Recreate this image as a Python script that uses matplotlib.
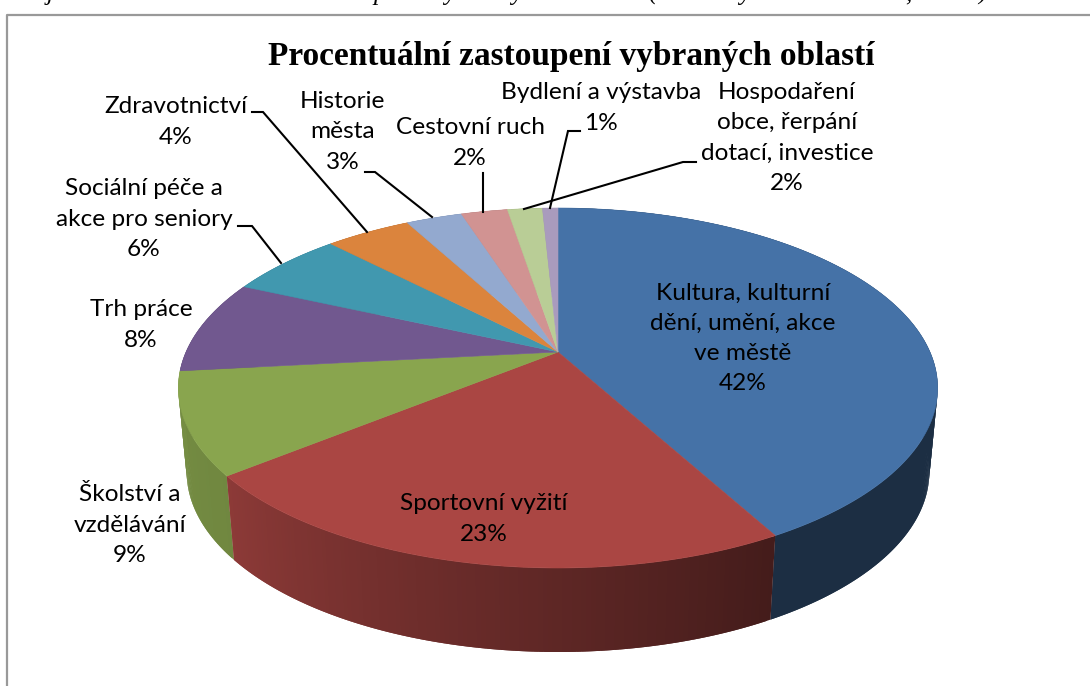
"""3D pie chart of topic shares, drawn with a small perspective projection."""

import numpy as np
import matplotlib
matplotlib.use("Agg")
import matplotlib.pyplot as plt
from matplotlib.patches import Polygon

# data, shares estimated from the slices (labels show them as printed)
labels = ["Kultura, kulturní\ndění, umění, akce\nve městě", "Sportovní vyžití",
          "Školství a\nvzdělávání", "Trh práce", "Sociální péče a\nakce pro seniory",
          "Zdravotnictví", "Historie\nměsta", "Cestovní ruch",
          "Hospodaření\nobce, řerpání\ndotací, investice", "Bydlení a výstavba"]
values = [42.0, 22.2, 9.1, 8.4, 6.0, 4.4, 2.9, 2.4, 1.8, 0.8]
percent_labels = ["42%", "23%", "9%", "8%", "6%", "4%", "3%", "2%", "2%", "1%"]
title = "Procentuální zastoupení vybraných oblastí"

# only the descenders of the caption above the chart are visible
caption_glyphs = ["j", "p", "y", "y", "(", "y", ",", ")"]
caption_x = [50, 380, 450, 517, 652, 745, 908, 982]

# slice colours (office palette) and brightness of the side wall, start -> end
colors = ["#4572A7", "#AA4643", "#89A54E", "#71588F", "#4198AF",
          "#DB843D", "#93A9CF", "#D19392", "#B9CD96", "#A99BBD"]
side_start = [0.40, 0.40, 0.82, 0.7, 0.7, 0.7, 0.7, 0.7, 0.7, 0.7]
side_end = [0.40, 0.83, 0.86, 0.7, 0.7, 0.7, 0.7, 0.7, 0.7, 0.7]

# label centres in pixels
label_x = [743, 484, 130, 141, 144, 176, 343, 470, 787, 601]
label_y = [338, 519, 525, 325, 219, 122, 132, 143, 138, 108]

# leader lines in pixels
leaders = [
    [(238, 226), (252, 226), (281, 263)],
    [(252, 112), (263, 112), (367, 232)],
    [(365, 172), (375, 172), (432, 217)],
    [(483, 173), (483, 212)],
    [(696, 162), (683, 162), (524, 209)],
    [(580, 131), (568, 131), (550, 208)],
]

# pie geometry
cx, cy = 558, 352
rx, ry = 372, 172.8
persp = 0.2
depth = 84
shrink = 0.978


def rim(t, scale=1.0, dy=0):
    # t is clockwise from the top of the pie
    w = 1 + persp * np.cos(t)
    x = cx + scale * rx * np.sin(t) / w
    y = cy - ry * np.cos(t) / w + dy
    return x, y


def shade(color, f):
    return tuple(np.array(matplotlib.colors.to_rgb(color)) * f)


fig = plt.figure(figsize=(10.9, 6.86), dpi=100, facecolor="w")
ax = fig.add_axes([0, 0, 1, 1])
ax.set_xlim(0, 1090)
ax.set_ylim(686, 0)
ax.axis("off")

# frame of the embedded chart, runs off the image at right and bottom
ax.plot([7, 7, 1095], [690, 14.5, 14.5], color="#999999", lw=1.6, zorder=1)

for ch, x in zip(caption_glyphs, caption_x):
    ax.text(x, 0, ch, family="Liberation Serif", style="italic", fontsize=18,
            ha="center", va="baseline", clip_on=False)

edges = 2 * np.pi * np.cumsum([0] + values) / sum(values)

# side wall first, back slices before front ones
# quads overlap by one step so no seams show through
mids = (edges[:-1] + edges[1:]) / 2
for i in np.argsort(-np.cos(mids)):
    steps = max(int(values[i] * 6), 2)
    ts = np.linspace(edges[i], edges[i + 1], steps + 1)
    for j in range(steps):
        t = ts[j:j + 3]
        x1, y1 = rim(t)
        x2, y2 = rim(t, shrink, depth)
        f = side_start[i] + (side_end[i] - side_start[i]) * j / steps
        ax.add_patch(Polygon(np.column_stack([np.r_[x1, x2[::-1]], np.r_[y1, y2[::-1]]]),
                             fc=shade(colors[i], f), ec="none", zorder=2))

# top face
for i in range(len(values)):
    ts = np.linspace(edges[i], edges[i + 1], 120)
    x, y = rim(ts)
    ax.add_patch(Polygon(np.column_stack([np.r_[cx, x], np.r_[cy, y]]),
                         fc=colors[i], ec=colors[i], lw=0.4, zorder=3))

for pts in leaders:
    xs, ys = zip(*pts)
    ax.plot(xs, ys, color="k", lw=1.5, zorder=4, solid_joinstyle="miter")

for lab, p, x, y in zip(labels, percent_labels, label_x, label_y):
    ax.text(x, y, lab + "\n" + p, family="Lato", fontsize=17.6, ha="center",
            va="center", linespacing=1.53, color="k", zorder=5)

ax.text(571, 56, title, family="Liberation Serif", weight="bold", fontsize=24,
        ha="center", va="center", zorder=5)

fig.savefig("out.png", dpi=100)
